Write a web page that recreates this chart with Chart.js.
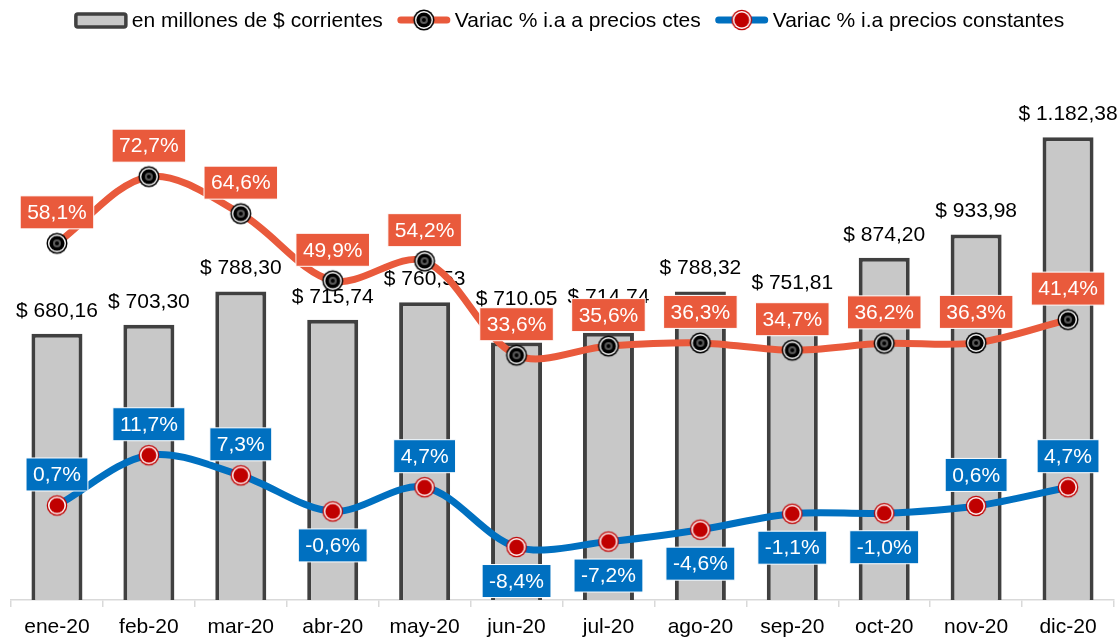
<!DOCTYPE html>
<html>
<head>
<meta charset="utf-8">
<script src="https://cdn.jsdelivr.net/npm/chart.js@4.4.0/dist/chart.umd.min.js"></script>
<style>
  html, body { margin: 0; padding: 0; background: #fff; }
  #wrap { width: 1120px; height: 637px; position: relative; }
</style>
</head>
<body>
<div id="wrap"><canvas id="myChart"></canvas></div>
<script>
var meses = ["ene-20", "feb-20", "mar-20", "abr-20", "may-20", "jun-20", "jul-20", "ago-20", "sep-20", "oct-20", "nov-20", "dic-20"];
// valor que dice cada etiqueta, y altura con la que se ve cada barra
var montos = [680.16, 703.30, 788.30, 715.74, 760.53, 710.05, 714.74, 788.32, 751.81, 874.20, 933.98, 1182.38];
var montosBarra = [680.16, 703.30, 788.30, 715.74, 760.53, 658, 683, 788.32, 751.81, 874.20, 933.98, 1182.38];
var etiquetasMonto = ["$ 680,16", "$ 703,30", "$ 788,30", "$ 715,74", "$ 760,53", "$ 710.05", "$ 714,74", "$ 788,32", "$ 751,81", "$ 874,20", "$ 933,98", "$ 1.182,38"];
var variacCtes = [58.1, 72.7, 64.6, 49.9, 54.2, 33.6, 35.6, 36.3, 34.7, 36.2, 36.3, 41.4];
var variacConst = [0.7, 11.7, 7.3, -0.6, 4.7, -8.4, -7.2, -4.6, -1.1, -1.0, 0.6, 4.7];

var naranja = "#E95A3C";
var azul = "#0070C0";
var rojo = "#C00000";
var fuente = '"Liberation Sans", Arial, sans-serif';

Chart.defaults.font.family = fuente;
Chart.defaults.font.size = 21;
Chart.defaults.color = "#000";

function marcador(tipo) {
  var c = document.createElement("canvas");
  c.width = 24; c.height = 24;
  var g = c.getContext("2d");
  function circ(r, col) {
    g.beginPath(); g.arc(12, 12, r, 0, Math.PI * 2); g.fillStyle = col; g.fill();
  }
  if (tipo === "negro") {
    circ(10.5, "#000"); circ(9, "#fff"); circ(7.6, "#000"); circ(4, "#5a5a5a"); circ(2, "#000");
  } else {
    circ(10.3, rojo); circ(9, "#fff"); circ(7.5, rojo);
  }
  return c;
}
var marcaNegra = marcador("negro");
var marcaRoja = marcador("rojo");

function fmtPct(v) {
  return v.toFixed(1).replace(".", ",") + "%";
}

// etiquetas de las barras, dibujadas despues de las barras y antes de las lineas
var etiquetasBarras = {
  id: "etiquetasBarras",
  afterDatasetDraw: function(chart, args) {
    if (args.meta.type !== "bar") return;
    var ctx = chart.ctx, yScale = chart.scales.y;
    ctx.save();
    ctx.font = "21px " + fuente;
    ctx.fillStyle = "#000";
    ctx.textAlign = "center";
    ctx.textBaseline = "middle";
    args.meta.data.forEach(function(bar, i) {
      ctx.fillText(etiquetasMonto[i], bar.x, yScale.getPixelForValue(montos[i]) - 23);
    });
    ctx.restore();
  }
};

var etiquetasPct = {
  id: "etiquetasPct",
  afterDatasetsDraw: function(chart) {
    var ctx = chart.ctx;
    ctx.save();
    ctx.font = "21px " + fuente;
    ctx.textAlign = "center";
    ctx.textBaseline = "middle";
    [1, 2].forEach(function(di) {
      var meta = chart.getDatasetMeta(di);
      var datos = chart.data.datasets[di].data;
      var col = chart.data.datasets[di].borderColor;
      meta.data.forEach(function(p, i) {
        var v = datos[i];
        var txt = fmtPct(v);
        var w = ctx.measureText(txt).width + 14, h = 33;
        var cy = v < 0 ? p.y + 34 : p.y - 31;
        ctx.fillStyle = col;
        ctx.fillRect(p.x - w / 2, cy - h / 2, w, h);
        ctx.strokeStyle = "#fff";
        ctx.lineWidth = 1;
        ctx.strokeRect(p.x - w / 2, cy - h / 2, w, h);
        ctx.fillStyle = "#fff";
        ctx.fillText(txt, p.x, cy + 1);
      });
    });
    ctx.restore();
  }
};

var leyenda = {
  id: "leyenda",
  afterDraw: function(chart) {
    var ctx = chart.ctx;
    var items = chart.data.datasets.map(function(d) { return d.label; });
    ctx.save();
    ctx.font = "21px " + fuente;
    ctx.textBaseline = "middle";
    var sw = 54, gap = 4, sep = 14, y = 20;
    var total = 0;
    items.forEach(function(t, i) { total += sw + gap + ctx.measureText(t).width + (i < items.length - 1 ? sep : 0); });
    var x = 569 - total / 2;
    items.forEach(function(t, i) {
      if (i === 0) {
        ctx.fillStyle = "#C8C8C8";
        ctx.strokeStyle = "#404040";
        ctx.lineWidth = 3.5;
        ctx.beginPath();
        ctx.roundRect(x + 2, y - 6, sw - 4, 13, 2);
        ctx.fill(); ctx.stroke();
      } else {
        var d = chart.data.datasets[i];
        ctx.strokeStyle = d.borderColor;
        ctx.lineWidth = 7;
        ctx.lineCap = "round";
        ctx.beginPath(); ctx.moveTo(x + 4, y); ctx.lineTo(x + sw - 4, y); ctx.stroke();
        ctx.drawImage(d.pointStyle, x + sw / 2 - 12, y - 12);
      }
      ctx.fillStyle = "#000";
      ctx.fillText(t, x + sw + gap, y + 1);
      x += sw + gap + ctx.measureText(t).width + sep;
    });
    ctx.restore();
  }
};

new Chart("myChart", {
  type: "bar",
  data: {
    labels: meses,
    datasets: [{
      type: "bar",
      label: "en millones de $ corrientes",
      data: montosBarra,
      backgroundColor: "#C8C8C8",
      borderColor: "#404040",
      borderWidth: 4,
      yAxisID: "y",
      order: 3,
      categoryPercentage: 1,
      barPercentage: 0.555
    }, {
      type: "line",
      label: "Variac % i.a a precios ctes",
      data: variacCtes,
      borderColor: naranja,
      borderWidth: 7,
      borderCapStyle: "round",
      borderJoinStyle: "round",
      tension: 0.33,
      pointStyle: marcaNegra,
      pointRadius: 10,
      yAxisID: "y1",
      order: 2,
      clip: false
    }, {
      type: "line",
      label: "Variac % i.a precios constantes",
      data: variacConst,
      borderColor: azul,
      borderWidth: 7,
      borderCapStyle: "round",
      borderJoinStyle: "round",
      tension: 0.33,
      pointStyle: marcaRoja,
      pointRadius: 10,
      yAxisID: "y1",
      order: 1,
      clip: false
    }]
  },
  options: {
    responsive: true,
    maintainAspectRatio: false,
    animation: false,
    layout: { autoPadding: false, padding: { top: 52, left: 11, right: 6, bottom: -11 } },
    plugins: {
      legend: { display: false },
      tooltip: { enabled: false }
    },
    scales: {
      x: {
        offset: true,
        grid: { display: true, drawOnChartArea: false, drawTicks: true, tickLength: 7, color: "#D9D9D9", lineWidth: 1.5, offset: true },
        border: { display: true, color: "#D9D9D9", width: 1.5 },
        ticks: { color: "#000", font: { size: 21, lineHeight: 1 }, padding: 10, maxRotation: 0, autoSkip: false }
      },
      y: { display: false, min: 0, max: 1400 },
      y1: { display: false, min: -20, max: 100 }
    }
  },
  plugins: [etiquetasBarras, etiquetasPct, leyenda]
});
</script>
</body>
</html>
